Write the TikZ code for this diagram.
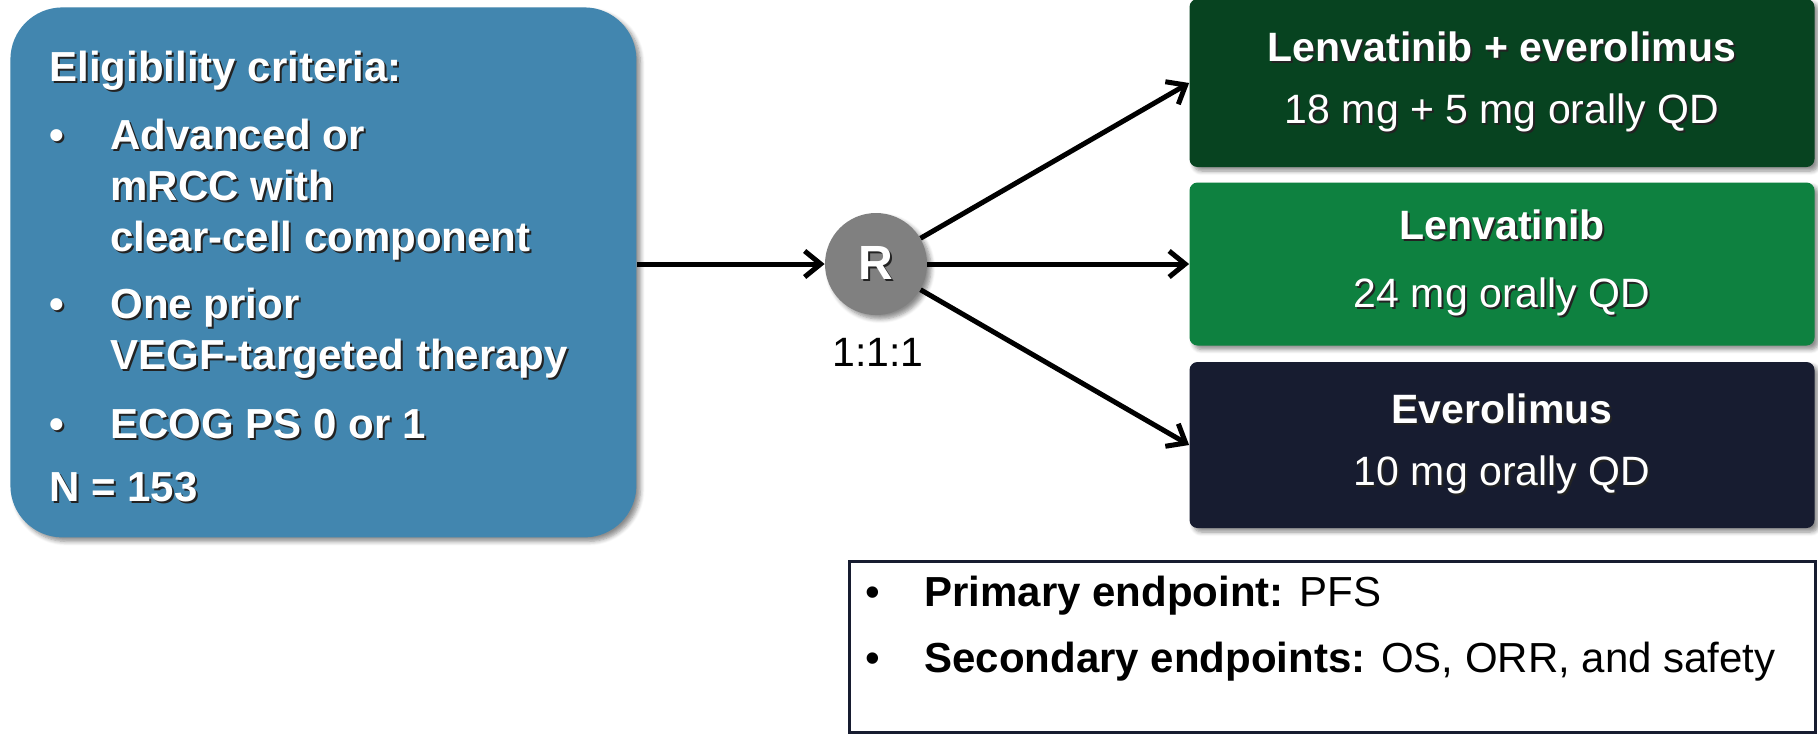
\documentclass[tikz,border=0pt]{standalone}
\usepackage{fontspec}
\setmainfont{Liberation Sans}
\usetikzlibrary{arrows.meta,shadows.blur}

\definecolor{eligblue}{RGB}{66,134,175}
\definecolor{combogreen}{RGB}{7,67,32}
\definecolor{lenvgreen}{RGB}{14,129,64}
\definecolor{everonavy}{RGB}{23,28,48}
\definecolor{randgray}{RGB}{128,128,128}
\definecolor{txtshadow}{RGB}{35,35,35}

% white lettering with a dark copy just behind it
\newcommand{\shtxt}[1]{\leavevmode\rlap{\kern1pt\raisebox{-1pt}{\textcolor{txtshadow}{#1}}}#1}

\tikzset{
  soft/.style={blur shadow={shadow xshift=2pt,shadow yshift=-2pt,shadow blur steps=6,shadow opacity=45}},
  arm/.style={soft,rounded corners=4pt,minimum width=312.5pt,inner sep=0pt,
    text=white,align=center,font=\fontsize{20.5}{31}\selectfont},
  link/.style={line width=2.5pt,-{Straight Barb[length=8pt,width=13pt]}},
}

\begin{document}
\begin{tikzpicture}[x=0.5pt,y=-0.5pt]
\useasboundingbox (0,0) rectangle (1818,734);

% patients
\node[soft,fill=eligblue,rounded corners=26pt,minimum width=313pt,minimum height=265pt,
  anchor=north west] (elig) at (10,7) {};
\node[anchor=north west,inner sep=0pt,text=white,align=left,
  font=\bfseries\fontsize{21}{25.5}\selectfont] (crit) at (49,51) {%
  \shtxt{Eligibility criteria:}\\[8.5pt]
  \makebox[30.5pt][l]{\shtxt{\textbullet}}\shtxt{Advanced or}\\
  \hspace*{30.5pt}\shtxt{mRCC with}\\
  \hspace*{30.5pt}\shtxt{clear-cell component}\\[8pt]
  \makebox[30.5pt][l]{\shtxt{\textbullet}}\shtxt{One prior}\\
  \hspace*{30.5pt}\shtxt{VEGF-targeted therapy}\\[9pt]
  \makebox[30.5pt][l]{\shtxt{\textbullet}}\shtxt{ECOG PS 0 or 1}\\[6pt]
  \shtxt{N = 153}};

% randomisation
\node[soft,circle,fill=randgray,minimum size=51pt,inner sep=0pt,text=white,
  font=\bfseries\fontsize{24}{24}\selectfont] (rand) at (876,264) {\shtxt{R}};
\node[font=\fontsize{20.5}{24}\selectfont] (ratio) at (878,352) {1:1:1};

% treatment arms
\node[arm,fill=combogreen,minimum height=84pt] (combo) at (1502,83)
  {\textbf{\shtxt{Lenvatinib + everolimus}}\\\shtxt{18 mg + 5 mg orally QD}};
\node[arm,fill=lenvgreen,minimum height=81.5pt] (lenv) at (1502,264)
  {\textbf{\shtxt{Lenvatinib}}\\[3pt]\shtxt{24 mg orally QD}};
\node[arm,fill=everonavy,minimum height=83pt] (evero) at (1502,445)
  {\textbf{\shtxt{Everolimus}}\\\shtxt{10 mg orally QD}};

\draw[link] (elig.east |- rand) -- (rand);
\draw[link] (rand) -- (combo.west);
\draw[link] (rand) -- (lenv.west);
\draw[link] (rand) -- (evero.west);

% endpoints
\node[draw=everonavy,line width=1.5pt,minimum width=483pt,minimum height=85.5pt,
  inner sep=0pt,anchor=north west] (endpts) at (848,560) {};
\node[anchor=north west,inner sep=0pt,align=left,
  font=\fontsize{21}{33}\selectfont] (endtxt) at (865,576) {%
  \makebox[29.5pt][l]{\textbullet}\textbf{Primary endpoint:} PFS\\
  \makebox[29.5pt][l]{\textbullet}\textbf{Secondary endpoints:} OS, ORR, and safety};
\end{tikzpicture}
\end{document}
